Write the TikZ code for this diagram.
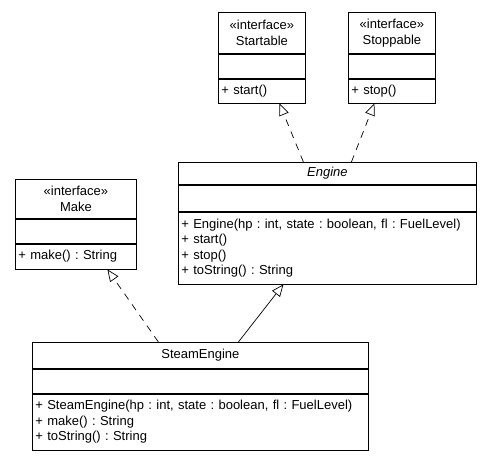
\documentclass[tikz,border=0pt]{standalone}
\usepackage{fontspec}
\setmainfont{Liberation Sans}
\usetikzlibrary{arrows.meta}
\frenchspacing
\tikzset{
  box/.style={draw, line width=0.8bp, anchor=north west, inner xsep=3bp, inner ysep=2bp},
  head/.style={box, align=center, minimum width=#1},
  attr/.style={box, minimum width=#1, minimum height=24bp},
  ops/.style={box, align=left, text width=#1},
  open tip/.style={-{Triangle[open, length=12bp, width=10bp]}},
  realize/.style={draw, line width=0.7bp, dash pattern=on 7bp off 6bp, open tip},
  extend/.style={draw, line width=0.7bp, open tip},
  every node/.style={font=\fontsize{13bp}{15.5bp}\selectfont}
}
\begin{document}
\begin{tikzpicture}[x=1bp,y=-1bp]
\useasboundingbox (0,0) rectangle (491,459);
% interfaces
\node[head=87bp, minimum height=41bp] (startable) at (218,12) {«interface»\\Startable};
\node[attr=87bp] (startable-a) at (startable.south west) {};
\node[ops=81bp, minimum height=24bp] (startable-m) at (startable-a.south west) {+ start()};
\node[head=87bp, minimum height=41bp] (stoppable) at (348,12) {«interface»\\Stoppable};
\node[attr=87bp] (stoppable-a) at (stoppable.south west) {};
\node[ops=81bp, minimum height=24bp] (stoppable-m) at (stoppable-a.south west) {+ stop()};
\node[head=121bp, minimum height=39bp] (make) at (15,179) {«interface»\\Make};
\node[attr=121bp] (make-a) at (make.south west) {};
\node[ops=115bp, minimum height=25bp] (make-m) at (make-a.south west) {+ make() : String};
% classes
\node[head=298bp, minimum height=22bp] (engine) at (178,162) {\itshape Engine};
\node[attr=298bp, minimum height=26bp] (engine-a) at (engine.south west) {};
\node[ops=292bp, minimum height=72bp] (engine-m) at (engine-a.south west) {+ Engine(hp : int, state : boolean, fl : FuelLevel)\\+ start()\\+ stop()\\+ toString() : String};
\node[head=336bp, minimum height=26bp] (steam) at (32,342) {SteamEngine};
\node[attr=336bp] (steam-a) at (steam.south west) {};
\node[ops=330bp, minimum height=56bp] (steam-m) at (steam-a.south west) {+ SteamEngine(hp : int, state : boolean, fl : FuelLevel)\\+ make() : String\\+ toString() : String};
% relations
\path[realize] ([xshift=-24bp]engine.north) -- ([xshift=17.5bp]startable-m.south);
\path[realize] ([xshift=24bp]engine.north) -- ([xshift=-17.5bp]stoppable-m.south);
\path[realize] ([xshift=-42bp]steam.north) -- ([xshift=31.5bp]make-m.south);
\path[extend] ([xshift=38bp]steam.north) -- ([xshift=-44bp]engine-m.south);
\end{tikzpicture}
\end{document}
